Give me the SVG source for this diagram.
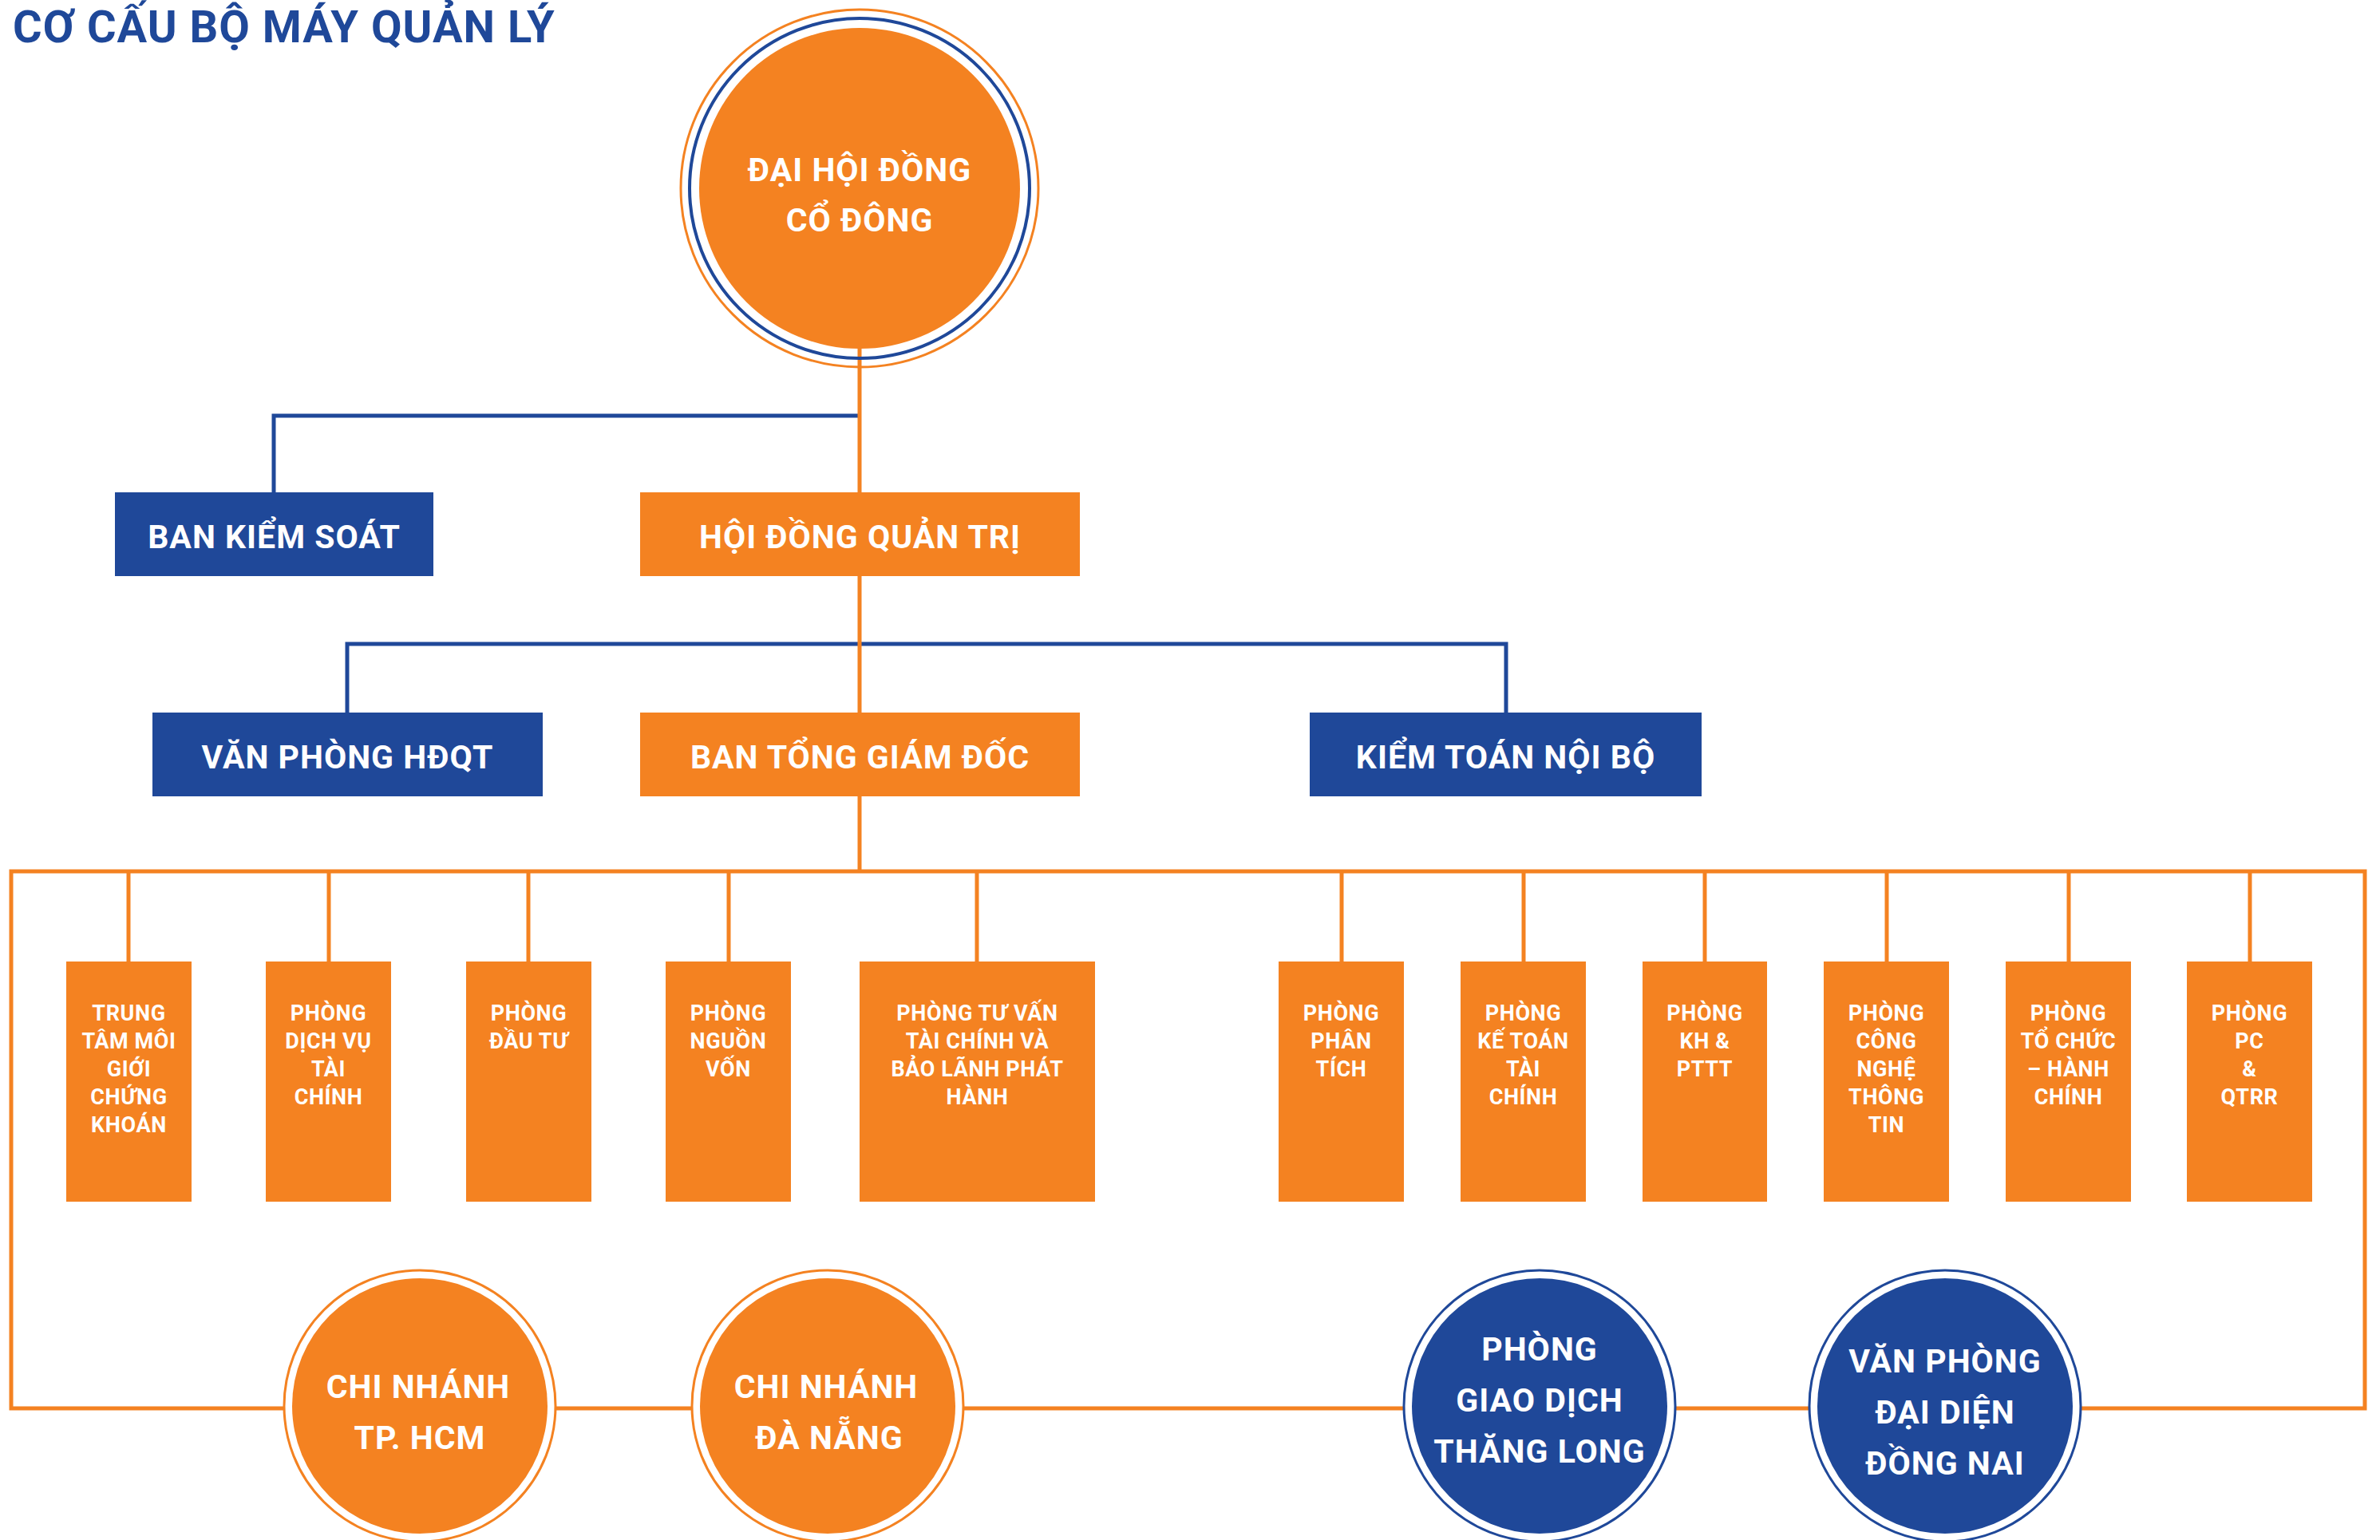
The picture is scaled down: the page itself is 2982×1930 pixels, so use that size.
<svg xmlns="http://www.w3.org/2000/svg" width="2982" height="1930" viewBox="0 0 2982 1930">
<style>
.bg{fill:#ffffff}
.or{fill:#F48221}
.bl{fill:#1F4899}
.lo{stroke:#F48221;stroke-width:5;fill:none}
.lb{stroke:#1F4899;stroke-width:5;fill:none}
.t{font-family:Roboto,"Liberation Sans",sans-serif;font-weight:bold;fill:#ffffff;text-anchor:middle}
.big{font-size:41px;letter-spacing:1px}
.sm{font-size:27px;letter-spacing:0.6px}
.title{font-family:Roboto,"Liberation Sans",sans-serif;font-weight:bold;font-size:56px;letter-spacing:1px;fill:#1F4899}
</style>
<rect class="bg" x="0" y="0" width="2982" height="1930"/>
<text class="title" x="16" y="53">CƠ CẤU BỘ MÁY QUẢN LÝ</text>

<g id="connectors">
  <polyline class="lb" points="343,617 343,521 1077,521"/>
  <polyline class="lb" points="435,893 435,807 1887,807 1887,893"/>
  <line class="lo" x1="1077" y1="430" x2="1077" y2="617"/>
  <line class="lo" x1="1077" y1="722" x2="1077" y2="893"/>
  <line class="lo" x1="1077" y1="998" x2="1077" y2="1092"/>
  <polygon class="lo" points="14,1092 2963,1092 2963,1765 14,1765"/>
  <line class="lo" x1="161" y1="1092" x2="161" y2="1205"/>
  <line class="lo" x1="412" y1="1092" x2="412" y2="1205"/>
  <line class="lo" x1="662" y1="1092" x2="662" y2="1205"/>
  <line class="lo" x1="913" y1="1092" x2="913" y2="1205"/>
  <line class="lo" x1="1224" y1="1092" x2="1224" y2="1205"/>
  <line class="lo" x1="1681" y1="1092" x2="1681" y2="1205"/>
  <line class="lo" x1="1909" y1="1092" x2="1909" y2="1205"/>
  <line class="lo" x1="2136" y1="1092" x2="2136" y2="1205"/>
  <line class="lo" x1="2364" y1="1092" x2="2364" y2="1205"/>
  <line class="lo" x1="2592" y1="1092" x2="2592" y2="1205"/>
  <line class="lo" x1="2819" y1="1092" x2="2819" y2="1205"/>
</g>

<g id="dhdcd">
  <circle cx="1077" cy="236" r="224" fill="none" stroke="#F48221" stroke-width="3"/>
  <circle cx="1077" cy="236" r="213" fill="none" stroke="#1F4899" stroke-width="4"/>
  <circle class="or" cx="1077" cy="236" r="201"/>
  <text class="t big" x="1077" y="227">ĐẠI HỘI ĐỒNG</text>
  <text class="t big" x="1077" y="290">CỔ ĐÔNG</text>
</g>

<g id="bks">
  <rect class="bl" x="144" y="617" width="399" height="105"/>
  <text class="t big" x="343.5" y="687">BAN KIỂM SOÁT</text>
</g>
<g id="hdqt">
  <rect class="or" x="802" y="617" width="551" height="105"/>
  <text class="t big" x="1077.5" y="687">HỘI ĐỒNG QUẢN TRỊ</text>
</g>
<g id="vphdqt">
  <rect class="bl" x="191" y="893" width="489" height="105"/>
  <text class="t big" x="435.5" y="963">VĂN PHÒNG HĐQT</text>
</g>
<g id="btgd">
  <rect class="or" x="802" y="893" width="551" height="105"/>
  <text class="t big" x="1077.5" y="963">BAN TỔNG GIÁM ĐỐC</text>
</g>
<g id="ktnb">
  <rect class="bl" x="1641" y="893" width="491" height="105"/>
  <text class="t big" x="1886.5" y="963">KIỂM TOÁN NỘI BỘ</text>
</g>

<g id="p1">
  <rect class="or" x="83" y="1205" width="157" height="301"/>
  <text class="t sm" x="161.5" y="1279">TRUNG</text>
  <text class="t sm" x="161.5" y="1314">TÂM MÔI</text>
  <text class="t sm" x="161.5" y="1349">GIỚI</text>
  <text class="t sm" x="161.5" y="1384">CHỨNG</text>
  <text class="t sm" x="161.5" y="1419">KHOÁN</text>
</g>
<g id="p2">
  <rect class="or" x="333" y="1205" width="157" height="301"/>
  <text class="t sm" x="411.5" y="1279">PHÒNG</text>
  <text class="t sm" x="411.5" y="1314">DỊCH VỤ</text>
  <text class="t sm" x="411.5" y="1349">TÀI</text>
  <text class="t sm" x="411.5" y="1384">CHÍNH</text>
</g>
<g id="p3">
  <rect class="or" x="584" y="1205" width="157" height="301"/>
  <text class="t sm" x="662.5" y="1279">PHÒNG</text>
  <text class="t sm" x="662.5" y="1314">ĐẦU TƯ</text>
</g>
<g id="p4">
  <rect class="or" x="834" y="1205" width="157" height="301"/>
  <text class="t sm" x="912.5" y="1279">PHÒNG</text>
  <text class="t sm" x="912.5" y="1314">NGUỒN</text>
  <text class="t sm" x="912.5" y="1349">VỐN</text>
</g>
<g id="p5">
  <rect class="or" x="1077" y="1205" width="295" height="301"/>
  <text class="t sm" x="1224.5" y="1279">PHÒNG TƯ VẤN</text>
  <text class="t sm" x="1224.5" y="1314">TÀI CHÍNH VÀ</text>
  <text class="t sm" x="1224.5" y="1349">BẢO LÃNH PHÁT</text>
  <text class="t sm" x="1224.5" y="1384">HÀNH</text>
</g>
<g id="p6">
  <rect class="or" x="1602" y="1205" width="157" height="301"/>
  <text class="t sm" x="1680.5" y="1279">PHÒNG</text>
  <text class="t sm" x="1680.5" y="1314">PHÂN</text>
  <text class="t sm" x="1680.5" y="1349">TÍCH</text>
</g>
<g id="p7">
  <rect class="or" x="1830" y="1205" width="157" height="301"/>
  <text class="t sm" x="1908.5" y="1279">PHÒNG</text>
  <text class="t sm" x="1908.5" y="1314">KẾ TOÁN</text>
  <text class="t sm" x="1908.5" y="1349">TÀI</text>
  <text class="t sm" x="1908.5" y="1384">CHÍNH</text>
</g>
<g id="p8">
  <rect class="or" x="2058" y="1205" width="156" height="301"/>
  <text class="t sm" x="2136" y="1279">PHÒNG</text>
  <text class="t sm" x="2136" y="1314">KH &amp;</text>
  <text class="t sm" x="2136" y="1349">PTTT</text>
</g>
<g id="p9">
  <rect class="or" x="2285" y="1205" width="157" height="301"/>
  <text class="t sm" x="2363.5" y="1279">PHÒNG</text>
  <text class="t sm" x="2363.5" y="1314">CÔNG</text>
  <text class="t sm" x="2363.5" y="1349">NGHỆ</text>
  <text class="t sm" x="2363.5" y="1384">THÔNG</text>
  <text class="t sm" x="2363.5" y="1419">TIN</text>
</g>
<g id="p10">
  <rect class="or" x="2513" y="1205" width="157" height="301"/>
  <text class="t sm" x="2591.5" y="1279">PHÒNG</text>
  <text class="t sm" x="2591.5" y="1314">TỔ CHỨC</text>
  <text class="t sm" x="2591.5" y="1349">– HÀNH</text>
  <text class="t sm" x="2591.5" y="1384">CHÍNH</text>
</g>
<g id="p11">
  <rect class="or" x="2740" y="1205" width="157" height="301"/>
  <text class="t sm" x="2818.5" y="1279">PHÒNG</text>
  <text class="t sm" x="2818.5" y="1314">PC</text>
  <text class="t sm" x="2818.5" y="1349">&amp;</text>
  <text class="t sm" x="2818.5" y="1384">QTRR</text>
</g>

<g id="cnhcm">
  <circle cx="526" cy="1762" r="170" fill="#ffffff" stroke="#F48221" stroke-width="3"/>
  <circle class="or" cx="526" cy="1762" r="160"/>
  <text class="t big" x="524" y="1752">CHI NHÁNH</text>
  <text class="t big" x="526" y="1816">TP. HCM</text>
</g>
<g id="cndn">
  <circle cx="1037" cy="1762" r="170" fill="#ffffff" stroke="#F48221" stroke-width="3"/>
  <circle class="or" cx="1037" cy="1762" r="160"/>
  <text class="t big" x="1035" y="1752">CHI NHÁNH</text>
  <text class="t big" x="1039" y="1816">ĐÀ NẴNG</text>
</g>
<g id="pgdtl">
  <circle cx="1929" cy="1762" r="170" fill="#ffffff" stroke="#1F4899" stroke-width="3"/>
  <circle class="bl" cx="1929" cy="1762" r="160"/>
  <text class="t big" x="1929" y="1705">PHÒNG</text>
  <text class="t big" x="1929" y="1769">GIAO DỊCH</text>
  <text class="t big" x="1929" y="1833">THĂNG LONG</text>
</g>
<g id="vpdn">
  <circle cx="2437" cy="1762" r="170" fill="#ffffff" stroke="#1F4899" stroke-width="3"/>
  <circle class="bl" cx="2437" cy="1762" r="160"/>
  <text class="t big" x="2437" y="1720">VĂN PHÒNG</text>
  <text class="t big" x="2437" y="1784">ĐẠI DIỆN</text>
  <text class="t big" x="2437" y="1848">ĐỒNG NAI</text>
</g>
</svg>
